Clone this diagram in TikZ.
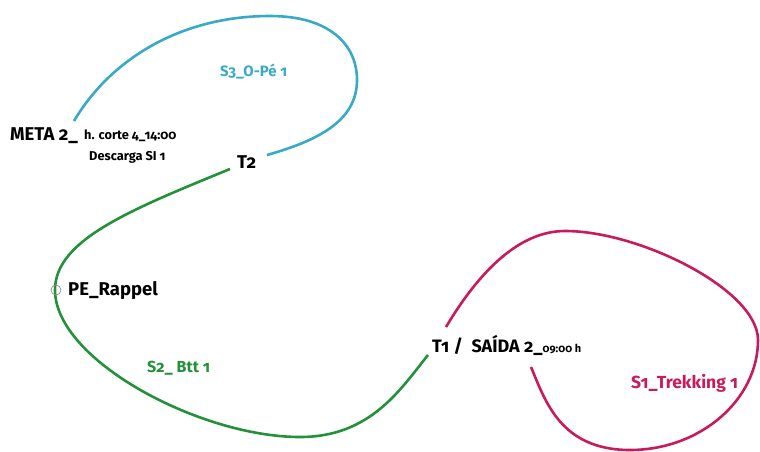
\documentclass[tikz,border=0pt]{standalone}
\usepackage{fontspec}
\setmainfont{Fira Sans}[Numbers=OldStyle]
\definecolor{cyanS}{HTML}{38A9C6}
\definecolor{greenS}{HTML}{23903A}
\definecolor{magS}{HTML}{C81A5C}
\begin{document}
\begin{tikzpicture}[x=1pt,y=-1pt,
  route/.style={line width=2.6pt},
  big/.style={font=\fontsize{18.5}{20}\selectfont\bfseries, inner sep=0pt, anchor=base west},
  small/.style={font=\fontsize{12.8}{14}\selectfont\bfseries, inner sep=0pt, anchor=base west},
  slabel/.style={font=\fontsize{15}{17}\selectfont\bfseries, inner sep=0pt, anchor=base west}]
\useasboundingbox (0,0) rectangle (760,451);
% curve endpoints
\coordinate (c0) at (74,121);
\coordinate (c1) at (270,16);
\coordinate (c2) at (357,80);
\coordinate (c3) at (267,155);
\coordinate (g0) at (230,169);
\coordinate (g1) at (55,290);
\coordinate (g2) at (300,437);
\coordinate (g3) at (428,355);
\coordinate (m0) at (446,327);
\coordinate (m1) at (565,231);
\coordinate (m2) at (758,340);
\coordinate (m3) at (630,450);
\coordinate (m4) at (531,367);
% routes
\draw[route, cyanS] (c0) .. controls (110,60) and (180,16) .. (c1)
  .. controls (330,16) and (357,45) .. (c2)
  .. controls (357,120) and (320,140) .. (c3);
\draw[route, greenS] (g0) .. controls (130,210) and (55,240) .. (g1)
  .. controls (55,360) and (200,437) .. (g2)
  .. controls (370,437) and (400,390) .. (g3);
\draw[route, magS] (m0) .. controls (480,270) and (520,231) .. (m1)
  .. controls (640,231) and (758,290) .. (m2)
  .. controls (758,400) and (700,450) .. (m3)
  .. controls (560,450) and (545,400) .. (m4);
% checkpoint circle
\node[circle, draw=gray!90, line width=0.7pt, minimum size=10pt, inner sep=0pt] (pe) at (56,290) {};
% labels
\node[big] (meta) at (10,140) {META 2\_};
\node[small] (hcorte) at (84,139) {h. corte 4\_14:00};
\node[small] (desc) at (89,160) {Descarga SI 1};
\node[big] (t2) at (237,168) {T2};
\node[slabel, cyanS] (s3) at (220,76) {S3\_O-Pé 1};
\node[big] (rappel) at (68,295) {PE\_Rappel};
\node[slabel, greenS, font=\fontsize{16}{18}\selectfont\bfseries] (s2) at (147,372) {S2\_ Btt 1};
\node[big, font=\fontsize{18}{20}\selectfont\bfseries] (t1) at (432,352) {T1 /\ \ SAÍDA 2\_{\fontsize{11}{12}\selectfont 09:00 h}};
\node[slabel, magS, font=\fontsize{17.5}{19}\selectfont\bfseries] (s1) at (631,388) {S1\_Trekking 1};
\end{tikzpicture}
\end{document}
